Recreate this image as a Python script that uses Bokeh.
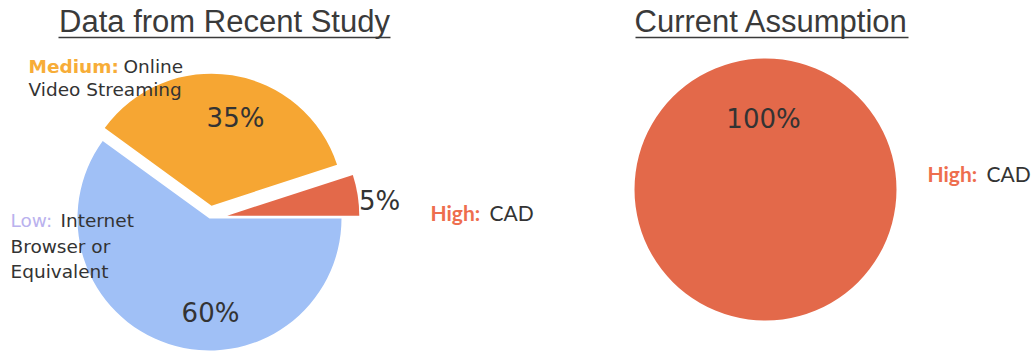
import numpy as np
from bokeh.plotting import figure
from bokeh.models import Range1d
from bokeh.core.properties import value
from bokeh.embed import file_html
from bokeh.resources import INLINE

# ---- data ----
categories = ["High", "Medium", "Low"]
study_pct = [5, 35, 60]
current_categories = ["High"]
current_pct = [100]
pct_labels_study = ["5%", "35%", "60%"]
pct_labels_current = ["100%"]

# ---- style ----
colors = {"High": "#e3694a", "Medium": "#f6a633", "Low": "#a0c0f6"}
label_colors = {"High": "#ee6e4e", "Medium": "#f7ad38", "Low": "#bab2ee"}
explode = [18, 13, 0]
W, H = 1035, 352
TXT = "#333333"
LBL_FONT = value("DejaVu Sans")
LBL_SIZE = "18.5px"
PCT_SIZE = "26px"

p = figure(width=W, height=H, output_backend="svg", toolbar_location=None,
           x_range=Range1d(0, W), y_range=Range1d(0, H), min_border=0)
p.axis.visible = False
p.grid.visible = False
p.outline_line_color = None
p.background_fill_color = "white"


def Y(ypx):
    return H - ypx


# ---- left pie (exploded) ----
cx, cy, r = 209, Y(218), 132
fr = np.array(study_pct) / sum(study_pct)
ends = np.cumsum(fr) * 2 * np.pi
starts = ends - fr * 2 * np.pi
mids = (starts + ends) / 2
xs = cx + np.array(explode) * np.cos(mids)
ys = cy + np.array(explode) * np.sin(mids)
p.wedge(x=xs, y=ys, radius=r, start_angle=starts, end_angle=ends,
        fill_color=[colors[c] for c in categories], line_color=None)

# percentage labels
pct_pos = [(379, 200), (235, 117), (210, 312)]
for (px, py), t in zip(pct_pos, pct_labels_study):
    p.text(x=[px], y=[Y(py)], text=[t], text_font=LBL_FONT, text_font_size=PCT_SIZE,
           text_color=TXT, text_align="center", text_baseline="middle")

# category labels
p.text(x=[28], y=[Y(66)], text=["Medium:"], text_font=LBL_FONT, text_font_size=LBL_SIZE,
       text_color=label_colors["Medium"], text_font_style="bold", text_baseline="middle")
p.text(x=[123, 28], y=[Y(66), Y(89)], text=["Online", "Video Streaming"], text_font=LBL_FONT,
       text_font_size=LBL_SIZE, text_color=TXT, text_baseline="middle")
p.text(x=[10], y=[Y(220)], text=["Low:"], text_font=LBL_FONT, text_font_size=LBL_SIZE,
       text_color=label_colors["Low"], text_baseline="middle")
p.text(x=[60, 10, 10], y=[Y(220), Y(246), Y(271)], text=["Internet", "Browser or", "Equivalent"],
       text_font=LBL_FONT, text_font_size=LBL_SIZE, text_color=TXT, text_baseline="middle")

HIGH_FONT = value("Lato")
HIGH_SIZE = "21px"
p.text(x=[430], y=[Y(212)], text=["High:"], text_font=HIGH_FONT, text_font_size=HIGH_SIZE,
       text_color=label_colors["High"], text_font_style="bold", text_baseline="middle")
p.text(x=[489], y=[Y(212)], text=["CAD"], text_font=HIGH_FONT, text_font_size=HIGH_SIZE,
       text_color=TXT, text_baseline="middle")

# ---- right pie ----
rcx, rcy, rr = 765, Y(189), 131
fr2 = np.array(current_pct) / sum(current_pct)
e2 = np.cumsum(fr2) * 2 * np.pi
s2 = e2 - fr2 * 2 * np.pi
p.wedge(x=[rcx] * len(s2), y=[rcy] * len(s2), radius=rr, start_angle=s2, end_angle=e2 - 1e-6,
        fill_color=[colors[c] for c in current_categories], line_color=None)
p.text(x=[763], y=[Y(118)], text=pct_labels_current, text_font=LBL_FONT, text_font_size=PCT_SIZE,
       text_color=TXT, text_align="center", text_baseline="middle")
p.text(x=[927], y=[Y(173)], text=["High:"], text_font=HIGH_FONT, text_font_size=HIGH_SIZE,
       text_color=label_colors["High"], text_font_style="bold", text_baseline="middle")
p.text(x=[986], y=[Y(173)], text=["CAD"], text_font=HIGH_FONT, text_font_size=HIGH_SIZE,
       text_color=TXT, text_baseline="middle")

# ---- titles with underline ----
titles = [("Data from Recent Study", 224, 58, 390), ("Current Assumption", 771, 635, 908)]
for t, tx, x0, x1 in titles:
    p.text(x=[tx], y=[Y(21)], text=[t], text_font=value("Liberation Sans"), text_font_size="31px",
           text_color="#3a3a3a", text_align="center", text_baseline="middle")
    p.segment(x0=[x0], y0=[Y(37)], x1=[x1], y1=[Y(37)], line_color="#3a3a3a", line_width=1.5)

open("out.html", "w").write(file_html(p, INLINE))
